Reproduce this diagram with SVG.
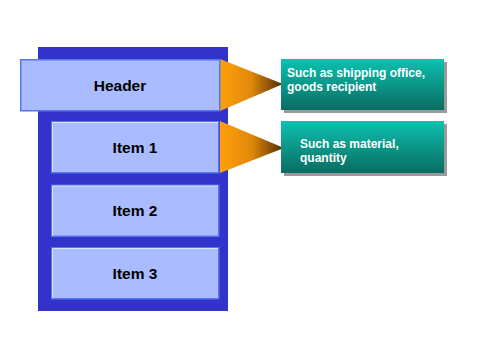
<svg xmlns="http://www.w3.org/2000/svg" width="480" height="359" viewBox="0 0 480 359">
  <defs>
    <linearGradient id="teal" x1="0" y1="0" x2="0" y2="1">
      <stop offset="0" stop-color="#0cc2b0"/>
      <stop offset="1" stop-color="#0a6c62"/>
    </linearGradient>
    <linearGradient id="cone" x1="0" y1="0" x2="1" y2="0">
      <stop offset="0" stop-color="#ffa00a"/>
      <stop offset="0.5" stop-color="#e0880a"/>
      <stop offset="1" stop-color="#4e2a08"/>
    </linearGradient>
    <style>
      .frame { fill: #3333cc; }
      .box { fill: #aabbff; stroke: #5577ee; stroke-width: 1.5; }
      .hl { fill: none; stroke: #dde4ff; stroke-width: 1; }
      .lbl { font-family: "Liberation Sans", Arial, sans-serif; font-size: 15.5px; font-weight: bold; fill: #000; text-anchor: middle; }
      .note { fill: url(#teal); }
      .shadow { fill: #9a9a9a; }
      .ntext { font-family: "Liberation Sans", Arial, sans-serif; font-size: 12px; font-weight: bold; fill: #ffffff; }
      .cone { fill: url(#cone); }
    </style>
  </defs>

  <g id="frame">
    <rect class="frame" x="38" y="47" width="190" height="264"/>
  </g>

  <g id="connectors">
    <polygon class="cone" points="220,59 283,84 220,111"/>
    <polygon class="cone" points="220,121 284,148 220,173"/>
  </g>

  <g id="header">
    <rect class="box" x="20.75" y="59.75" width="199" height="51"/>
    <text class="lbl" x="120" y="91">Header</text>
  </g>

  <g id="item1">
    <rect class="box" x="51.75" y="121.75" width="167" height="51"/>
    <polyline class="hl" points="52.5,172 52.5,122.5 218,122.5"/>
    <text class="lbl" x="135" y="153">Item 1</text>
  </g>

  <g id="item2">
    <rect class="box" x="51.75" y="185.25" width="167" height="51"/>
    <polyline class="hl" points="52.5,235.5 52.5,186 218,186"/>
    <text class="lbl" x="135" y="216">Item 2</text>
  </g>

  <g id="item3">
    <rect class="box" x="51.75" y="247.75" width="167" height="51"/>
    <polyline class="hl" points="52.5,298 52.5,248.5 218,248.5"/>
    <text class="lbl" x="135" y="279">Item 3</text>
  </g>

  <g id="note1">
    <rect class="shadow" x="284" y="62" width="163" height="51"/>
    <rect class="note" x="281" y="59" width="163" height="51"/>
    <text class="ntext" x="287" y="77">Such as shipping office,</text>
    <text class="ntext" x="287" y="91">goods recipient</text>
  </g>

  <g id="note2">
    <rect class="shadow" x="284" y="124" width="163" height="52"/>
    <rect class="note" x="281" y="121" width="163" height="52"/>
    <text class="ntext" x="300" y="148">Such as material,</text>
    <text class="ntext" x="300" y="162">quantity</text>
  </g>
</svg>
